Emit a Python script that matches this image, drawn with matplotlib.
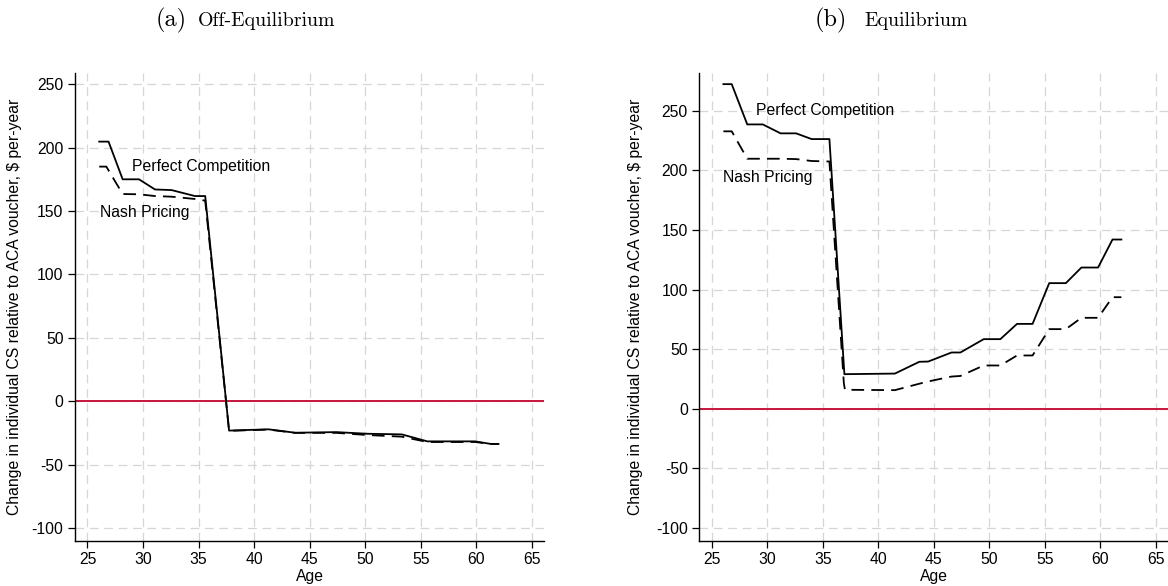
import matplotlib
matplotlib.use("Agg")
import matplotlib.pyplot as plt

# ---- Panel (a): off-equilibrium ----
age_a_pc = [26.06, 26.9, 28.17, 29.64, 31.08, 32.58, 34.68, 35.6, 37.75,
            41.3, 43.7, 47.4, 50.2, 53.3, 55.6, 59.9, 61.3, 62.0]
cs_a_pc = [204.7, 204.7, 175.0, 175.0, 167.0, 166.5, 161.8, 161.8, -23.0,
           -22.0, -24.7, -24.2, -25.5, -26.0, -31.5, -31.5, -33.5, -33.5]

age_a_np = [26.06, 26.7, 28.17, 29.64, 31.08, 32.58, 34.68, 35.6, 37.75,
            41.3, 43.7, 47.4, 50.2, 53.3, 55.6, 59.9, 61.3, 62.0]
cs_a_np = [185.0, 185.0, 163.4, 163.2, 161.8, 161.3, 159.5, 158.2, -23.2,
           -22.2, -24.8, -24.8, -26.5, -27.8, -32.0, -32.0, -33.5, -33.5]

# ---- Panel (b): equilibrium ----
age_b_pc = [26.05, 26.8, 28.2, 29.6, 31.2, 32.6, 34.0, 35.6, 36.95,
            41.5, 43.7, 44.5, 46.6, 47.4, 49.5, 51.0, 52.5, 53.9,
            55.4, 56.9, 58.3, 59.8, 61.1, 61.9]
cs_b_pc = [272.4, 272.4, 238.6, 238.6, 231.1, 231.1, 226.3, 226.3, 29.0,
           29.5, 39.4, 39.6, 47.2, 47.2, 58.4, 58.4, 71.2, 71.2,
           105.4, 105.4, 118.5, 118.5, 142.0, 142.0]

age_b_np = [26.05, 26.8, 28.2, 29.6, 31.2, 32.6, 34.0, 35.6, 36.9, 37.0,
            41.5, 43.7, 44.5, 46.6, 47.4, 49.5, 51.0, 52.5, 53.9,
            55.4, 56.9, 58.3, 59.8, 61.1, 61.9]
cs_b_np = [232.8, 232.8, 209.8, 209.8, 209.8, 209.5, 207.9, 207.5, 21.5, 15.9,
           15.6, 21.0, 22.9, 27.0, 27.5, 36.3, 36.3, 44.7, 44.7,
           66.8, 66.8, 76.3, 76.3, 93.6, 93.6]

yticks = [-100, -50, 0, 50, 100, 150, 200, 250]
xticks = [25, 30, 35, 40, 45, 50, 55, 60, 65]

ylabel = "Change in individual CS relative to ACA voucher, $ per-year"
sans = ["Liberation Sans", "DejaVu Sans"]
serif = ["cmr10", "DejaVu Serif"]

plt.rcParams["font.family"] = sans
plt.rcParams["axes.unicode_minus"] = False

W, H = 1168, 586
fig = plt.figure(figsize=(W / 100, H / 100), dpi=100)

red = "#c8143c"
grid_kw = dict(color="#d6d6d6", linewidth=0.9, linestyle=(0, (7, 4.5)))
fs = 11.3


def style_axes(ax, ylim, ylab_x):
    ax.set_xlim(23.88, 66.1)
    ax.set_ylim(*ylim)
    ax.set_xticks(xticks)
    ax.set_yticks(yticks)
    ax.grid(True, **grid_kw)
    ax.set_axisbelow(True)
    for s in ("top", "right"):
        ax.spines[s].set_visible(False)
    for s in ("left", "bottom"):
        ax.spines[s].set_linewidth(1.0)
    ax.tick_params(direction="out", length=5, width=0.9, pad=3.2,
                   labelsize=fs)
    ax.axhline(0, color=red, linewidth=1.4, zorder=2)
    ax.set_xlabel("Age", fontsize=fs, va="center")
    ax.xaxis.set_label_coords(0.5, -35 / 468.3)
    ax.set_ylabel(ylabel, fontsize=fs, va="center")
    ax.yaxis.set_label_coords(ylab_x, 0.5)


axh = 468.3 / H
axb = 45 / H
ax_a = fig.add_axes([75 / W, axb, 469 / W, axh])
ax_b = fig.add_axes([699.3 / W, axb, 468.7 / W, axh])

style_axes(ax_a, (-110, 259), -60 / 469)
style_axes(ax_b, (-111, 282), -64.3 / 468.7)

line_kw = dict(color="black", linewidth=1.3, zorder=3)
dash = (0, (7, 4))

ax_a.plot(age_a_pc, cs_a_pc, **line_kw)
ax_a.plot(age_a_np, cs_a_np, linestyle=dash, **line_kw)
ax_a.text(28.98, 185, "Perfect Competition", fontsize=fs, va="center", ha="left")
ax_a.text(26.13, 149, "Nash Pricing", fontsize=fs, va="center", ha="left")

ax_b.plot(age_b_pc, cs_b_pc, **line_kw)
ax_b.plot(age_b_np, cs_b_np, linestyle=dash, **line_kw)
ax_b.text(28.96, 250, "Perfect Competition", fontsize=fs, va="center", ha="left")
ax_b.text(26.05, 194, "Nash Pricing", fontsize=fs, va="center", ha="left")

# subfigure captions
base_y = 1 - 26 / H
fig.text(156 / W, base_y, "(a)", family=serif, fontsize=17.5, va="baseline", ha="left")
fig.text(197.7 / W, base_y, "Off-Equilibrium", family=serif, fontsize=14.3, va="baseline", ha="left")
fig.text(815 / W, base_y, "(b)", family=serif, fontsize=17.5, va="baseline", ha="left")
fig.text(864 / W, base_y, "Equilibrium", family=serif, fontsize=14.3, va="baseline", ha="left")

fig.savefig("out.png", dpi=100)
